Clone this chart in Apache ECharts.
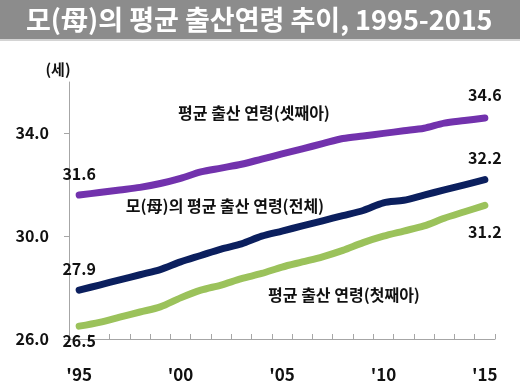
<!DOCTYPE html>
<html>
<head>
<meta charset="utf-8">
<script src="https://cdn.jsdelivr.net/npm/echarts@6/dist/echarts.min.js"></script>
<style>html,body{margin:0;padding:0;background:#fff}#c{width:520px;height:387px}</style>
</head>
<body>
<div id="c"></div>
<script>
var years = [1995,1996,1997,1998,1999,2000,2001,2002,2003,2004,2005,2006,2007,2008,2009,2010,2011,2012,2013,2014,2015];
var third = [31.6,31.7,31.8,31.9,32.05,32.25,32.5,32.65,32.8,33.0,33.2,33.4,33.6,33.8,33.9,34.0,34.1,34.2,34.4,34.5,34.6];
var total = [27.9,28.1,28.3,28.5,28.7,29.0,29.25,29.5,29.7,30.0,30.2,30.4,30.6,30.8,31.0,31.3,31.4,31.6,31.8,32.0,32.2];
var first = [26.5,26.65,26.85,27.05,27.25,27.6,27.9,28.1,28.35,28.55,28.8,29.0,29.2,29.45,29.75,30.0,30.2,30.4,30.7,30.95,31.2];
var yTicks = [26,30,34];
var titleText = '모(母)의 평균 출산연령 추이, 1995-2015';
var names = ['평균 출산 연령(셋째아)','모(母)의 평균 출산 연령(전체)','평균 출산 연령(첫째아)'];

var FONT = '"Noto Sans CJK KR", "Liberation Sans", sans-serif';
function lbl(pos, dist, offset){
  return {show:true, position:pos, distance:dist, offset:offset||[0,0], color:'#111', fontSize:16, fontWeight:'bold', fontFamily:FONT,
    formatter:function(p){return Number(p.value).toFixed(1);} };
}
function mk(arr, l0, l1){
  return arr.map(function(v,i){
    if(i===0) return {value:v, label:l0};
    if(i===arr.length-1) return {value:v, label:l1};
    return v;
  });
}
var clear = 'rgba(0,0,0,0)';
var chart = echarts.init(document.getElementById('c'));
chart.setOption({
  backgroundColor:'#fff',
  animation:false,
  title:{text:titleText, left:21, top:1, textStyle:{color:'#fff', fontSize:27, fontWeight:'bold', fontFamily:FONT}},
  graphic:[
    {type:'rect', z:-1, shape:{x:0,y:0,width:520,height:39}, style:{fill:'#8c8c8c'}},
    {type:'rect', z:-1, shape:{x:0,y:39,width:520,height:2}, style:{fill:'#d4d4d4'}},
    {type:'text', x:254, y:113, style:{text:names[0], fill:'#111', font:'bold 16px '+FONT, textAlign:'center', textVerticalAlign:'middle'}},
    {type:'text', x:225, y:206, style:{text:names[1], fill:'#111', font:'bold 16px '+FONT, textAlign:'center', textVerticalAlign:'middle'}},
    {type:'text', x:344, y:295, style:{text:names[2], fill:'#111', font:'bold 16px '+FONT, textAlign:'center', textVerticalAlign:'middle'}}
  ],
  grid:{left:69, right:25, top:82, bottom:48},
  xAxis:{type:'category', data:years, boundaryGap:true,
    axisLine:{lineStyle:{color:'#a6a6a6', width:1}},
    axisTick:{show:true, inside:true, length:5, interval:0, lineStyle:{color:'#a6a6a6'}},
    axisLabel:{interval:4, margin:27, color:'#111', fontSize:17, fontWeight:'bold', fontFamily:FONT,
      formatter:function(v){return "'"+String(v).slice(2);}}
  },
  yAxis:{type:'value', min:26, max:36, interval:4,
    name:'(세)', nameLocation:'end', nameGap:5,
    nameTextStyle:{color:'#111', fontSize:15, fontWeight:'bold', fontFamily:FONT, padding:[0,22,0,0]},
    axisLine:{show:true, lineStyle:{color:'#a6a6a6', width:1}},
    axisTick:{show:true, length:5, customValues:yTicks, lineStyle:{color:'#a6a6a6'}},
    splitLine:{show:false},
    axisLabel:{customValues:yTicks, margin:20, color:'#111', fontSize:16, fontWeight:'bold', fontFamily:FONT,
      formatter:function(v){return Number(v).toFixed(1);}}
  },
  series:[
    {type:'line', name:names[0], data:mk(third, lbl('top',12,[0,0]), lbl('top',14,[-6,0])), smooth:0.3, showSymbol:true, showAllSymbol:true, symbol:'circle', symbolSize:2,
      lineStyle:{color:'#7232ad', width:7, cap:'round'}, itemStyle:{color:clear, borderWidth:0}, labelLayout:{hideOverlap:false}},
    {type:'line', name:names[1], data:mk(total, lbl('top',12,[0,0]), lbl('top',13,[4,0])), smooth:0.3, showSymbol:true, showAllSymbol:true, symbol:'circle', symbolSize:2,
      lineStyle:{color:'#0b1f5e', width:7, cap:'round'}, itemStyle:{color:clear, borderWidth:0}, labelLayout:{hideOverlap:false}},
    {type:'line', name:names[2], data:mk(first, lbl('bottom',6,[0,0]), lbl('bottom',18,[0,0])), smooth:0.3, showSymbol:true, showAllSymbol:true, symbol:'circle', symbolSize:2,
      lineStyle:{color:'#9bc25b', width:7, cap:'round'}, itemStyle:{color:clear, borderWidth:0}, labelLayout:{hideOverlap:false}}
  ]
});
</script>
</body>
</html>
